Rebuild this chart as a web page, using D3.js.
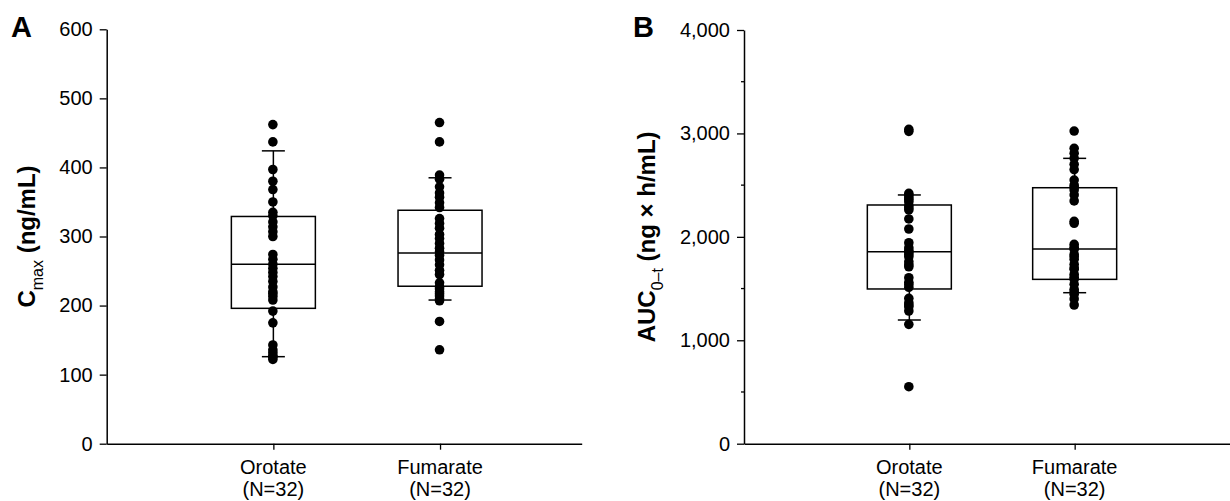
<!DOCTYPE html>
<html><head><meta charset="utf-8">
<script src="https://cdn.jsdelivr.net/npm/d3@7"></script>
<style>
html,body{margin:0;padding:0;background:#fff;}
svg text{font-family:"Liberation Sans",Arial,sans-serif;}
</style></head>
<body>
<svg id="chart" width="1230" height="501"></svg>
<script>
// ---- data ----
const categories = ["Orotate", "Fumarate"];
const categorySub = ["(N=32)", "(N=32)"];

const orotateCmax = [462,437,397,380,368,350,335,330,321,314,307,300,274,267,260,254,248,242,235,227,220,217,213,208,192,175,143,136,132,128,125,122];
const fumarateCmax = [465,437,389,383,372,363,357,349,342,326,319,312,303,297,290,283,278,273,266,259,251,245,233,227,224,220,217,214,210,207,177,136];
const orotateAUC = [3040,3020,2421,2400,2379,2360,2340,2301,2280,2260,2173,2076,1943,1895,1870,1850,1830,1808,1760,1730,1711,1605,1560,1540,1512,1406,1363,1340,1325,1283,1154,551];
const fumarateAUC = [3023,2856,2808,2759,2701,2650,2549,2501,2480,2453,2405,2347,2150,2131,1928,1900,1880,1831,1810,1783,1734,1700,1686,1638,1610,1589,1541,1493,1470,1444,1400,1341];

// box stats: [whiskerLow, q1, median, q3, whiskerHigh]
const cmaxBoxOrotate = [126,196,260,329,424];
const cmaxBoxFumarate = [208,228,276,338,385];
const aucBoxOrotate = [1196,1496,1857,2308,2405];
const aucBoxFumarate = [1460,1589,1883,2475,2759];

const cmaxTicks = [0,100,200,300,400,500,600];
const aucTicks = [0,1000,2000,3000,4000];
const aucMinorTicks = [500,1500,2500,3500];

// ---- drawing ----
const svg = d3.select("#chart");
const FONT = "'Liberation Sans', Arial, sans-serif";

function panel(opt){
  const g = svg.append("g");
  const x = d3.scaleLinear().domain(opt.xDomain).range(opt.xRange);
  const y = d3.scaleLinear().domain(opt.yDomain).range([443.7, opt.yTop]);

  // y axis
  const ya = d3.axisLeft(y).tickValues(opt.ticks).tickSize(7).tickSizeOuter(0).tickPadding(7)
     .tickFormat(opt.fmt);
  const yg = g.append("g").attr("transform",`translate(${opt.xRange[0]},0)`).call(ya);
  yg.select(".domain").attr("stroke","#000").attr("stroke-width",1.5);
  yg.selectAll(".tick line").attr("stroke","#000").attr("stroke-width",1.3);
  yg.selectAll(".tick text").attr("font-size",20).attr("font-family",FONT).attr("fill","#000");
  if (opt.minor){
    g.selectAll(".minor").data(opt.minor).enter().append("line")
      .attr("x1",opt.xRange[0]-3).attr("x2",opt.xRange[0])
      .attr("y1",d=>y(d)).attr("y2",d=>y(d))
      .attr("stroke","#000").attr("stroke-width",1.3);
  }

  // x axis
  const xa = d3.axisBottom(x).tickValues([1,2]).tickSize(6).tickSizeOuter(0).tickFormat("");
  const xg = g.append("g").attr("transform","translate(0,443.7)").call(xa);
  xg.select(".domain").attr("stroke","#000").attr("stroke-width",1.5);
  xg.selectAll(".tick line").attr("stroke","#000").attr("stroke-width",1.3);
  categories.forEach((c,i)=>{
    const t = g.append("text").attr("x",x(i+1)).attr("text-anchor","middle")
      .attr("font-size",20).attr("font-family",FONT).attr("fill","#000");
    t.append("tspan").attr("x",x(i+1)).attr("y",474).text(c);
    t.append("tspan").attr("x",x(i+1)).attr("y",496).text(categorySub[i]);
  });

  // boxes
  const hw = 42, cw = 11.5;
  opt.boxes.forEach((b,i)=>{
    const cx = x(i+1);
    const bg = g.append("g").attr("stroke","#000").attr("stroke-width",1.5).attr("fill","none");
    bg.append("line").attr("x1",cx).attr("x2",cx).attr("y1",y(b[0])).attr("y2",y(b[1]));
    bg.append("line").attr("x1",cx).attr("x2",cx).attr("y1",y(b[3])).attr("y2",y(b[4]));
    bg.append("line").attr("x1",cx-cw).attr("x2",cx+cw).attr("y1",y(b[0])).attr("y2",y(b[0]));
    bg.append("line").attr("x1",cx-cw).attr("x2",cx+cw).attr("y1",y(b[4])).attr("y2",y(b[4]));
    bg.append("rect").attr("x",cx-hw).attr("width",2*hw).attr("y",y(b[3])).attr("height",y(b[1])-y(b[3]));
    bg.append("line").attr("x1",cx-hw).attr("x2",cx+hw).attr("y1",y(b[2])).attr("y2",y(b[2]));
  });

  // dots
  opt.series.forEach((s,i)=>{
    g.selectAll(null).data(s).enter().append("circle")
      .attr("cx",x(i+1)-0.5).attr("cy",d=>y(d)).attr("r",4.8).attr("fill","#000");
  });

  // y label
  const lab = g.append("text").attr("transform",`translate(${opt.labX},${(443.7+opt.yTop)/2}) rotate(-90)`)
    .attr("text-anchor","middle").attr("font-family",FONT).attr("font-weight","bold")
    .attr("font-size",24).attr("fill","#000");
  lab.append("tspan").text(opt.labMain);
  lab.append("tspan").attr("font-size",16).attr("font-weight","normal").attr("dy",8).text(opt.labSub);
  lab.append("tspan").attr("dy",-8).text(opt.labRest);

  // panel letter
  svg.append("text").attr("x",opt.letterX).attr("y",37).attr("font-family",FONT)
    .attr("font-weight","bold").attr("font-size",29).attr("fill","#000").text(opt.letter);
}

panel({xDomain:[0,2.85], xRange:[106.7,581.7], yDomain:[0,600], yTop:29.3, ticks:cmaxTicks, fmt:d3.format("d"),
  boxes:[cmaxBoxOrotate,cmaxBoxFumarate], series:[orotateCmax,fumarateCmax],
  labX:35, labMain:"C", labSub:"max", labRest:"\u00a0(ng/mL)", letter:"A", letterX:11});
panel({xDomain:[0,3], xRange:[744,1240], yDomain:[0,4000], yTop:30, ticks:aucTicks, minor:aucMinorTicks, fmt:d3.format(","),
  boxes:[aucBoxOrotate,aucBoxFumarate], series:[orotateAUC,fumarateAUC],
  labX:655, labMain:"AUC", labSub:"0\u2013t", labRest:"\u00a0(ng \u00d7 h/mL)", letter:"B", letterX:633});
</script>
</body></html>
